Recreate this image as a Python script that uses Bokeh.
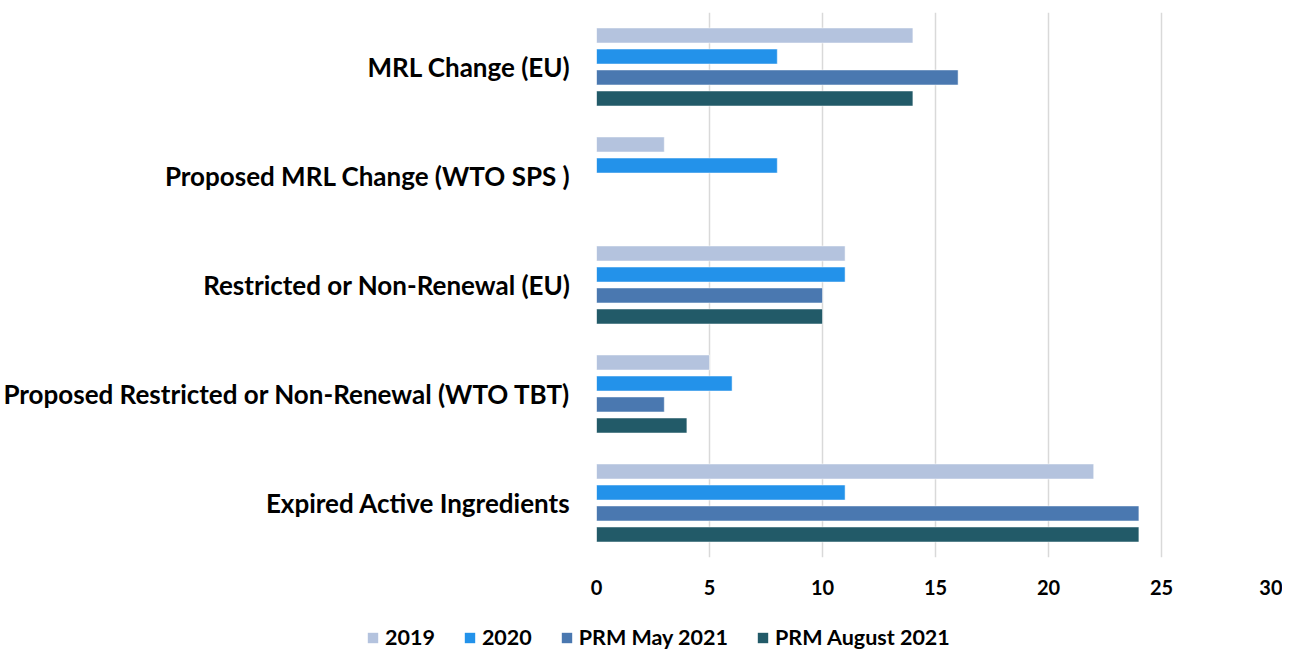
from bokeh.plotting import figure
from bokeh.models import ColumnDataSource, FactorRange, Legend, LegendItem, FixedTicker
from bokeh.transform import dodge
from bokeh.embed import file_html
from bokeh.resources import INLINE

categories = [
    "MRL Change (EU)",
    "Proposed MRL Change (WTO SPS )",
    "Restricted or Non-Renewal (EU)",
    "Proposed Restricted or Non-Renewal (WTO TBT)",
    "Expired Active Ingredients",
]
series_names = ["2019", "2020", "PRM May 2021", "PRM August 2021"]
v2019 = [14, 3, 11, 5, 22]
v2020 = [8, 8, 11, 6, 11]
v_may2021 = [16, None, 10, 3, 24]
v_aug2021 = [14, None, 10, 4, 24]
x_ticks = [0, 5, 10, 15, 20, 25, 30]

colors = ["#B4C3DE", "#2392EA", "#4A78B0", "#225A68"]
offsets = [0.289, 0.096, -0.096, -0.289]

FONT = "Lato"

source = ColumnDataSource(dict(
    cat=categories,
    s0=[float("nan") if v is None else v for v in v2019],
    s1=[float("nan") if v is None else v for v in v2020],
    s2=[float("nan") if v is None else v for v in v_may2021],
    s3=[float("nan") if v is None else v for v in v_aug2021],
))

p = figure(
    width=1282, height=598,
    y_range=FactorRange(*reversed(categories), range_padding=0, factor_padding=0),
    x_range=(0, 30),
    output_backend="svg", toolbar_location=None,
    min_border_left=592, min_border_right=8, min_border_top=12, min_border_bottom=41,
)
p.outline_line_color = None
p.background_fill_color = "white"

for i, name in enumerate(series_names):
    p.hbar(
        y=dodge("cat", offsets[i], range=p.y_range), right=f"s{i}", left=0,
        height=0.138, source=source,
        fill_color=colors[i], line_color="white", line_alpha=0.5, line_width=1,
    )

p.xaxis.ticker = FixedTicker(ticks=x_ticks)
p.xaxis.axis_line_color = None
p.xaxis.major_tick_line_color = None
p.xaxis.minor_tick_line_color = None
p.xaxis.major_label_text_font = FONT
p.xaxis.major_label_text_font_style = "bold"
p.xaxis.major_label_text_font_size = "20px"
p.xaxis.major_label_text_color = "black"
p.xaxis.major_label_standoff = 16

p.yaxis.axis_line_color = None
p.yaxis.major_tick_line_color = None
p.yaxis.minor_tick_line_color = None
p.yaxis.major_label_text_font = FONT
p.yaxis.major_label_text_font_style = "bold"
p.yaxis.major_label_text_font_size = "26px"
p.yaxis.major_label_text_color = "black"
p.yaxis.major_label_standoff = 20

p.xgrid.grid_line_color = "#D9D9D9"
p.xgrid.grid_line_width = 1.5
p.ygrid.grid_line_color = None

# Legend strip below the chart (separate root so its frame spans the full width)
lg = figure(
    width=1282, height=52, x_range=(0, 1), y_range=(0, 1),
    output_backend="svg", toolbar_location=None,
    x_axis_type=None, y_axis_type=None,
    min_border_left=0, min_border_right=0, min_border_top=0, min_border_bottom=0,
)
lg.outline_line_color = None
lg.grid.grid_line_color = None
swatches = []
for i in range(len(series_names)):
    # zero-area renderers that only supply the legend swatch colours
    swatches.append(lg.hbar(y=[0.5], left=[0], right=[0], height=0.0,
                            fill_color=colors[i], line_color=None))

legend = Legend(
    items=[LegendItem(label=n, renderers=[r]) for n, r in zip(series_names, swatches)],
    orientation="horizontal",
    location=(366, 0),
    label_text_font=FONT,
    label_text_font_style="bold",
    label_text_font_size="21.5px",
    label_text_color="black",
    label_height=13,
    glyph_width=13, glyph_height=13,
    label_standoff=6, spacing=28,
    border_line_color=None, background_fill_alpha=0,
    padding=0, margin=0,
)
lg.add_layout(legend, "center")

open("out.html", "w").write(file_html([p, lg], INLINE))
